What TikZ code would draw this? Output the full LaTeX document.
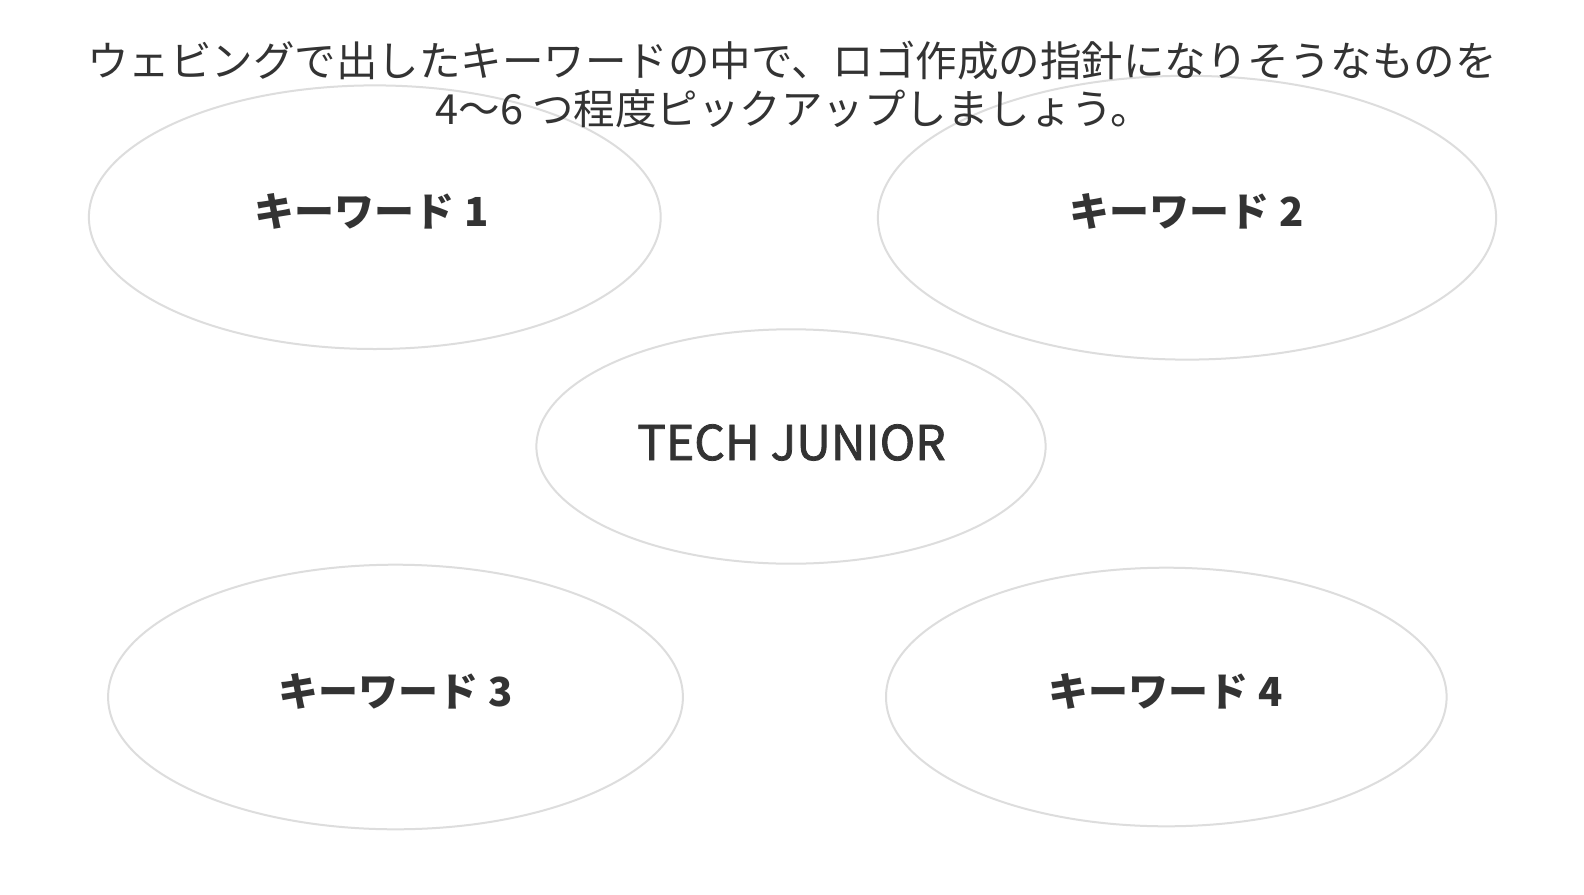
\documentclass[tikz,border=0pt]{standalone}
\usepackage{fontspec}
\setmainfont{Noto Sans CJK JP}
\newfontfamily\techfont{Noto Sans CJK JP}[FakeBold=1.6]
\usetikzlibrary{shapes.geometric}
\definecolor{txt}{HTML}{333333}
\definecolor{ring}{HTML}{DDDDDD}
\begin{document}
\begin{tikzpicture}[x=1pt,y=-1pt,
  bubble/.style={ellipse,draw=ring,line width=2pt,inner sep=0pt},
  kw/.style={text=txt,font=\fontsize{40}{48}\selectfont\bfseries,inner sep=0pt},
  title/.style={text=txt,font=\fontsize{41.5}{49}\selectfont,inner sep=0pt,align=center}]
\useasboundingbox[fill=white] (0,0) rectangle (1584,894);
\node[bubble,minimum width=571.8pt,minimum height=263.6pt] (e1) at (374.8,217.2) {};
\node[bubble,minimum width=618.2pt,minimum height=283.8pt] (e2) at (1187,217.7) {};
\node[bubble,minimum width=509.2pt,minimum height=234.4pt] (e3) at (791,446.5) {};
\node[bubble,minimum width=574.8pt,minimum height=264.6pt] (e4) at (395.5,697) {};
\node[bubble,minimum width=560.6pt,minimum height=258.6pt] (e5) at (1166.3,697) {};
\node[title] (t1) at (792,60.6) {ウェビングで出したキーワードの中で、ロゴ作成の指針になりそうなものを};
\node[title] (t2) at (794,109) {4〜6 つ程度ピックアップしましょう。};
\node[kw] (k1) at (372,211) {キーワード\hspace{0.25em}1};
\node[kw] (k2) at (1187,211) {キーワード\hspace{0.25em}2};
\node[kw] (k3) at (395.5,691) {キーワード\hspace{0.25em}3};
\node[kw] (k4) at (1166,691) {キーワード\hspace{0.25em}4};
\node[text=txt,font=\techfont\fontsize{48}{58}\selectfont,inner sep=0pt] (tj) at (791.5,442.5) {TECH JUNIOR};
\end{tikzpicture}
\end{document}
